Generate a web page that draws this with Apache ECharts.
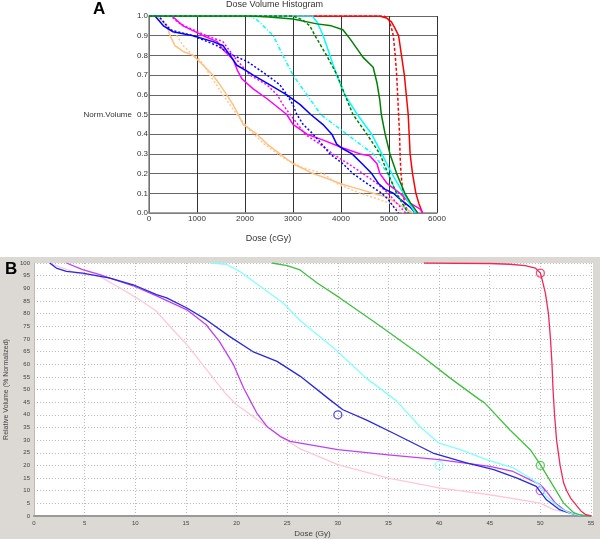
<!DOCTYPE html>
<html>
<head>
<meta charset="utf-8">
<script src="https://cdn.jsdelivr.net/npm/echarts@6/dist/echarts.min.js"></script>
<style>html,body{margin:0;padding:0;background:#fff}#c{width:600px;height:539px}</style>
</head>
<body>
<div id="c"></div>
<script>
// ---------- Panel A data (dose cGy, normalized volume) ----------
const aXTicks = [0, 1000, 2000, 3000, 4000, 5000, 6000];
const aRedSolid = [[0,1],[4800,1],[4950,0.99],[5050,0.97],[5120,0.94],[5200,0.9],[5260,0.8],[5320,0.7],[5360,0.6],[5400,0.5],[5420,0.4],[5440,0.3],[5490,0.2],[5560,0.1],[5620,0.05],[5700,0]];
const aRedDash = [[0,1],[4900,1],[5000,0.98],[5060,0.93],[5090,0.9],[5130,0.8],[5160,0.7],[5180,0.6],[5200,0.5],[5220,0.4],[5230,0.3],[5250,0.2],[5290,0.1],[5330,0.05],[5400,0]];
const aGreenSolid = [[0,1],[2100,1],[2500,0.995],[3000,0.985],[3500,0.96],[3800,0.95],[4040,0.93],[4200,0.88],[4460,0.79],[4670,0.74],[4750,0.66],[4810,0.57],[4840,0.5],[4920,0.4],[5020,0.3],[5160,0.2],[5330,0.1],[5450,0.05],[5600,0]];
const aGreenDash = [[0,1],[3000,1],[3200,0.98],[3350,0.95],[3460,0.9],[3700,0.8],[3920,0.7],[4080,0.6],[4250,0.5],[4540,0.4],[4810,0.3],[4980,0.2],[5160,0.1],[5300,0.04],[5400,0]];
const aCyanSolid = [[0,1],[3400,1],[3500,0.97],[3630,0.9],[3770,0.8],[3910,0.7],[4080,0.6],[4340,0.5],[4640,0.4],[4850,0.3],[5060,0.2],[5300,0.1],[5420,0.05],[5550,0]];
const aCyanDash = [[0,1],[2100,1],[2250,0.98],[2380,0.95],[2590,0.9],[2790,0.8],[3000,0.7],[3290,0.6],[3580,0.5],[4120,0.4],[4670,0.3],[4980,0.2],[5160,0.1],[5300,0.04],[5400,0]];
const aBlueSolid = [[0,1],[125,1],[300,0.95],[500,0.92],[920,0.9],[1330,0.87],[1540,0.85],[1690,0.8],[1830,0.75],[2040,0.72],[2170,0.7],[2520,0.65],[2870,0.6],[3150,0.55],[3370,0.5],[3620,0.45],[3810,0.4],[3910,0.35],[4010,0.33],[4230,0.3],[4440,0.25],[4640,0.2],[4780,0.15],[4920,0.12],[5090,0.1],[5230,0.07],[5440,0.03],[5550,0]];
const aBlueDash = [[0,1],[200,1],[440,0.93],[920,0.9],[1410,0.85],[1750,0.8],[2040,0.77],[2460,0.7],[2730,0.65],[2870,0.6],[3000,0.55],[3080,0.5],[3210,0.45],[3420,0.4],[3600,0.35],[3770,0.3],[4040,0.25],[4250,0.2],[4540,0.15],[4850,0.1],[4980,0.07],[5100,0.03],[5200,0]];
const aMagentaSolid = [[0,1],[480,1],[710,0.95],[1130,0.9],[1420,0.87],[1540,0.83],[1750,0.78],[1850,0.72],[1940,0.68],[2170,0.63],[2460,0.58],[2870,0.5],[3000,0.45],[3290,0.4],[3630,0.37],[4040,0.33],[4400,0.3],[4600,0.29],[4750,0.25],[4810,0.2],[4960,0.15],[5230,0.1],[5440,0.05],[5650,0.02],[5700,0]];
const aMagentaDash = [[0,1],[450,1],[650,0.96],[920,0.93],[1200,0.9],[1540,0.87],[1750,0.8],[2100,0.7],[2460,0.65],[2670,0.6],[2790,0.55],[2940,0.5],[3100,0.45],[3250,0.4],[3560,0.35],[3830,0.3],[4150,0.25],[4460,0.2],[4750,0.15],[4980,0.1],[5160,0.05],[5350,0]];
const aOrangeSolid = [[0,1],[170,1],[370,0.95],[440,0.9],[540,0.85],[710,0.82],[920,0.8],[1130,0.75],[1330,0.7],[1480,0.65],[1620,0.6],[1750,0.55],[1860,0.5],[1960,0.45],[2250,0.4],[2460,0.35],[2730,0.3],[3000,0.25],[3420,0.2],[3770,0.17],[3980,0.15],[4250,0.13],[4670,0.1],[4960,0.08],[5160,0.05],[5370,0.02],[5500,0]];
const aOrangeDash = [[0,1],[200,1],[400,0.95],[580,0.9],[710,0.85],[920,0.8],[1060,0.78],[1270,0.7],[1540,0.6],[1830,0.5],[2100,0.42],[2400,0.35],[2800,0.28],[3200,0.23],[3630,0.2],[3910,0.15],[4400,0.1],[5020,0.05],[5300,0]];

// ---------- Panel B data (dose Gy, relative volume %) ----------
const bRed = [[38.5,100],[45,99.8],[47,99.5],[48.5,99],[49.5,98],[50,96],[50.2,93],[50.5,88],[50.8,80],[51,70],[51.15,60],[51.25,50],[51.4,40],[51.6,30],[51.95,20],[52.3,13],[52.6,10],[53,7],[53.4,5],[54,2],[54.5,0.5],[55,0]];
const bGreen = [[23.5,100],[25,99],[26.2,97.4],[28,92],[30.2,86.2],[34,75.6],[38.1,63.8],[41.1,54.5],[44,46],[44.5,44.7],[47,34],[49,26.2],[50,20.3],[51.3,11.7],[52.3,5.1],[53.3,1.3],[54,0.3],[55,0]];
const bCyan = [[17.4,100],[19,99.5],[20.3,96.7],[23,88.8],[24.6,84.2],[26.3,77.2],[29.6,66.4],[32.8,54.5],[35.8,45.5],[38.1,35.4],[40,28.8],[42.1,26.2],[44.7,22.3],[47.3,19],[49,15],[50,12],[50.6,7.7],[52,3],[53,1],[54,0.2],[55,0]];
const bBlue = [[1.55,100],[2.2,98],[3.2,96.7],[4.8,96],[7.5,94],[9.8,91.4],[12.1,87.5],[13.1,86.2],[15.1,82.2],[17,77.6],[19.3,71],[21.6,65],[24,61.1],[26.3,55.2],[29.2,46],[30.5,42],[32.8,38],[35.5,32.7],[39.4,24.9],[42.7,21],[45.4,18.3],[47.7,15],[49.6,11.7],[50.6,6.4],[51.9,2.5],[53,1],[54,0.2],[55,0]];
const bMagenta = [[3.2,100],[4.8,97.4],[6.5,95.4],[7.5,94],[9.8,91],[12.1,87],[15.1,81.5],[17,75.6],[18.3,69],[19.7,59.8],[20.7,50.6],[21.3,46],[22,40.7],[23,35.4],[24.3,31.5],[25.3,29.5],[26.3,28.8],[30,26.2],[35,24.2],[40,22.3],[45,19.6],[47.3,17.6],[49,14.3],[50,12.4],[50.6,9.7],[51.5,5],[52.5,2],[53.5,0.5],[54.5,0]];
const bPink = [[1.5,100],[4.2,96],[6.5,94.7],[8.1,91],[9.8,87],[10.8,84.5],[12.1,80.9],[13.4,75],[15.1,67.7],[16.4,61.1],[17.7,54.5],[19,48],[20,44],[21.6,39.4],[23,35.4],[24.3,31.5],[26.3,26.5],[30,20.3],[35,15],[40,11.1],[45,8.4],[50,5.1],[51.3,2.5],[53,1],[54.5,0]];
const bMarkRed = [[50,96]];
const bMarkGreen = [[50,20]];
const bMarkCyan = [[40,20]];
const bMarkBlue = [[30,40]];
const bMarkMagenta = [[50,10]];

const FONT = 'Liberation Sans, Arial, sans-serif';

function aLine(name, data, color, dash) {
  return {
    name, type: 'line', xAxisIndex: 0, yAxisIndex: 0, data,
    symbol: 'none', animation: false, clip: true,
    lineStyle: { color, width: 1.5, type: dash || 'solid' }
  };
}
function bLine(name, data, color) {
  return {
    name, type: 'line', xAxisIndex: 1, yAxisIndex: 1, data,
    symbol: 'none', animation: false, clip: true,
    lineStyle: { color, width: 1.3 }
  };
}
function bMark(name, data, color) {
  return {
    name, type: 'scatter', xAxisIndex: 1, yAxisIndex: 1, data,
    symbol: 'circle', symbolSize: 8, animation: false,
    itemStyle: { color: 'rgba(0,0,0,0)', borderColor: color, borderWidth: 1.3 }
  };
}

const chart = echarts.init(document.getElementById('c'), null, { renderer: 'canvas' });
chart.setOption({
  backgroundColor: '#ffffff',
  animation: false,
  textStyle: { fontFamily: FONT },
  title: {
    text: 'Dose Volume Histogram', left: 226, top: 0, padding: 0,
    textStyle: { fontSize: 9, fontWeight: 'normal', color: '#333', fontFamily: FONT }
  },
  graphic: [
    { type: 'rect', z: -10, shape: { x: 0, y: 257, width: 600, height: 282 }, style: { fill: '#dcd8d4' } },
    { type: 'rect', z: -9, shape: { x: 34, y: 263, width: 559, height: 253 }, style: { fill: '#ffffff' } },
    { type: 'text', x: 93, y: 1, style: { text: 'A', font: 'bold 17px ' + FONT, fill: '#000' } },
    { type: 'text', x: 5, y: 261, style: { text: 'B', font: 'bold 17px ' + FONT, fill: '#000' } }
  ],
  grid: [
    { left: 149, top: 16, width: 288, height: 197, containLabel: false, outerBoundsMode: 'none' },
    { left: 34, top: 263, width: 557, height: 253, containLabel: false, outerBoundsMode: 'none' }
  ],
  xAxis: [
    {
      gridIndex: 0, type: 'value', min: aXTicks[0], max: aXTicks[aXTicks.length - 1], interval: 1000,
      name: 'Dose (cGy)', nameLocation: 'middle', nameGap: 21,
      nameTextStyle: { fontSize: 9, color: '#333', padding: [0, 49, 0, 0] },
      axisLine: { show: true, lineStyle: { color: '#888', width: 1.5 } },
      axisTick: { show: false },
      axisLabel: { fontSize: 8, color: '#333', margin: 2, formatter: v => String(v) },
      splitLine: { show: true, lineStyle: { color: '#333', width: 1 } }
    },
    {
      gridIndex: 1, type: 'value', min: 0, max: 55, interval: 5,
      name: 'Dose (Gy)', nameLocation: 'middle', nameGap: 14,
      nameTextStyle: { fontSize: 8, color: '#444' },
      axisLine: { show: true, lineStyle: { color: '#999', width: 2 } },
      axisTick: { show: false },
      axisLabel: { fontSize: 6, color: '#444', margin: 4, formatter: v => String(v) },
      splitLine: { show: true, lineStyle: { color: '#bbb', width: 1, type: [1, 2] } }
    }
  ],
  yAxis: [
    {
      gridIndex: 0, type: 'value', min: 0, max: 1, interval: 0.1,
      name: 'Norm.Volume', nameLocation: 'middle', nameRotate: 0, nameGap: 14,
      nameTextStyle: { fontSize: 8, color: '#333', padding: [12, 0, 0, 0] },
      axisLine: { show: true, lineStyle: { color: '#888', width: 1.5 } },
      axisTick: { show: false },
      axisLabel: { fontSize: 8, color: '#333', margin: 1, formatter: v => v.toFixed(1) },
      splitLine: { show: true, lineStyle: { color: '#666', width: 1 } }
    },
    {
      gridIndex: 1, type: 'value', min: 0, max: 100, interval: 5,
      name: 'Relative Volume (% Normalized)', nameLocation: 'middle', nameGap: 23,
      nameTextStyle: { fontSize: 7, color: '#444' },
      axisLine: { show: true, lineStyle: { color: '#bbb', width: 1 } },
      axisTick: { show: false },
      axisLabel: { fontSize: 6, color: '#444', margin: 4 },
      splitLine: { show: true, lineStyle: { color: '#bbb', width: 1, type: [1, 2] } }
    }
  ],
  series: [
    aLine('A red', aRedSolid, '#ff0000'),
    aLine('A red dashed', aRedDash, '#ff0000', [3, 2]),
    aLine('A orange dashed', aOrangeDash, '#ffc890', [2, 2]),
    aLine('A orange', aOrangeSolid, '#ffc080'),
    aLine('A magenta dashed', aMagentaDash, '#ff00ff', [2, 2]),
    aLine('A magenta', aMagentaSolid, '#ff00ff'),
    aLine('A blue dashed', aBlueDash, '#0000ff', [2, 2]),
    aLine('A blue', aBlueSolid, '#0000ff'),
    aLine('A cyan dashed', aCyanDash, '#00ffff', [4, 2, 1, 2]),
    aLine('A cyan', aCyanSolid, '#00ffff'),
    aLine('A green dashed', aGreenDash, '#008000', [3, 2]),
    aLine('A green', aGreenSolid, '#008000'),
    bLine('B pink', bPink, '#ffc8d8'),
    bLine('B magenta', bMagenta, '#c040f0'),
    bLine('B blue', bBlue, '#2828e0'),
    bLine('B cyan', bCyan, '#80ffff'),
    bLine('B green', bGreen, '#40c040'),
    bLine('B red', bRed, '#f02858'),
    bMark('B red mark', bMarkRed, '#f02858'),
    bMark('B green mark', bMarkGreen, '#40c040'),
    bMark('B cyan mark', bMarkCyan, '#80ffff'),
    bMark('B blue mark', bMarkBlue, '#2828e0'),
    bMark('B magenta mark', bMarkMagenta, '#c040f0')
  ]
});
</script>
</body>
</html>
